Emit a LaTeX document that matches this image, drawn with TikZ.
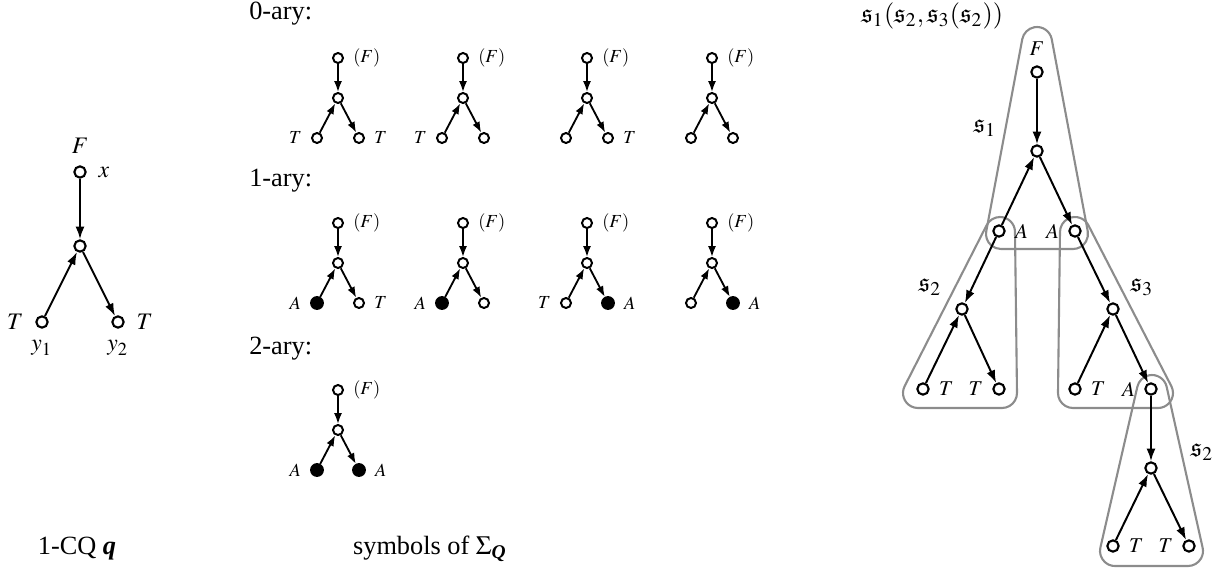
\documentclass[tikz,border=0pt]{standalone}
\usepackage{amsmath}
\usepackage{mathptmx}
\usepackage{amssymb}
\usepackage{fontspec}
\setmainfont{Liberation Serif}
\usepackage{tikz}
\usetikzlibrary{arrows.meta,calc}

\tikzset{
  bvtx/.style = {circle, draw, fill=white, line width=0.8pt, inner sep=0pt, minimum size=4.3pt},
  svtx/.style = {bvtx, line width=0.75pt, minimum size=3.8pt},
  sfull/.style = {svtx, fill=black, minimum size=4.5pt},
  barr/.style = {line width=0.75pt, -{Latex[length=4.8pt,width=3.4pt]}},
  sarr/.style = {line width=0.7pt, -{Latex[length=4.1pt,width=3pt]}},
  qlab/.style = {font=\small, label distance=1pt},
  tlab/.style = {font=\footnotesize},
  slab/.style = {font=\scriptsize},
  tl/.style = {svtx, label={[slab]left:$T$}},
  tr/.style = {svtx, label={[slab]right:$T$}},
  al/.style = {sfull, label={[slab]left:$A$}},
  ar/.style = {sfull, label={[slab]right:$A$}},
  hull/.style = {draw=black!45, line width=0.8pt}
}

% one symbol: name, x, y of the top node, left leaf, right leaf
\newcommand\symtree[5]{%
  \node[svtx, label={[slab]right:$(F)$}] (#1r) at (#2,#3) {};
  \node[svtx] (#1m) at (#2,#3+40) {};
  \node[#4] (#1a) at (#2-21,#3+80) {};
  \node[#5] (#1b) at (#2+21,#3+80) {};
  \draw[sarr] (#1r) -- (#1m);
  \draw[sarr] (#1a) -- (#1m);
  \draw[sarr] (#1m) -- (#1b);
}

% rounded hull round three points (counterclockwise)
\newcommand\hullr{5.7pt}
\newcommand\hull[3]{%
  \draw[hull] let \p1=(#1), \p2=(#2), \p3=(#3),
      \n1={atan2(\y2-(\y1),\x2-(\x1))},
      \n2={atan2(\y3-(\y2),\x3-(\x2))},
      \n3={atan2(\y1-(\y3),\x1-(\x3))} in
    ($(\p1)+({\n1-90}:\hullr)$) -- ($(\p2)+({\n1-90}:\hullr)$)
    arc[start angle=\n1-90, delta angle={mod(\n2-\n1+720,360)}, radius=\hullr]
    -- ($(\p3)+({\n2-90}:\hullr)$)
    arc[start angle=\n2-90, delta angle={mod(\n3-\n2+720,360)}, radius=\hullr]
    -- ($(\p1)+({\n3-90}:\hullr)$)
    arc[start angle=\n3-90, delta angle={mod(\n1-\n3+720,360)}, radius=\hullr]
    -- cycle;}

\begin{document}
\begin{tikzpicture}[x=0.38pt, y=-0.38pt]
  \useasboundingbox (0,0) rectangle (1226,574);

  % the 1-CQ
  \node[bvtx, label={[qlab]above:$F$}, label={[qlab]right:$x$}] (qx) at (80,172) {};
  \node[bvtx] (qm) at (80,246) {};
  \node[bvtx, label={[qlab]left:$T$}, label={[qlab]below:$y_1$}] (qy1) at (42,322) {};
  \node[bvtx, label={[qlab]right:$T$}, label={[qlab]below:$y_2$}] (qy2) at (118,322) {};
  \draw[barr] (qx) -- (qm);
  \draw[barr] (qy1) -- (qm);
  \draw[barr] (qm) -- (qy2);
  \node (cq) at (77,549) {1-CQ \textbf{\textit{q}}};

  % the symbols
  \node[anchor=west] (ary0) at (240,14) {0-ary:};
  \node[anchor=west] (ary1) at (240,181) {1-ary:};
  \node[anchor=west] (ary2) at (240,349) {2-ary:};
  \symtree{za}{338}{58}{tl}{tr}
  \symtree{zb}{463}{58}{tl}{svtx}
  \symtree{zc}{587}{58}{svtx}{tr}
  \symtree{zd}{712}{58}{svtx}{svtx}
  \symtree{oa}{338}{223}{al}{tr}
  \symtree{ob}{463}{223}{al}{svtx}
  \symtree{oc}{587}{223}{tl}{ar}
  \symtree{od}{712}{223}{svtx}{ar}
  \symtree{ta}{338}{390}{al}{ar}
  \node (sig) at (430,549) {symbols of $\Sigma_{\text{\bfseries\itshape Q}}$};

  % the term
  \node[anchor=west] (term) at (852,16) {$\mathfrak{s}_1(\mathfrak{s}_2,\mathfrak{s}_3(\mathfrak{s}_2))$};
  \coordinate (h1a) at (1037,42);
  \coordinate (h1b) at (1001,234);
  \coordinate (h1c) at (1073,234);
  \coordinate (h2a) at (1000,232);
  \coordinate (h2b) at (918,393);
  \coordinate (h2c) at (1002,393);
  \coordinate (h3a) at (1075,232);
  \coordinate (h3b) at (1073,393);
  \coordinate (h3c) at (1158,393);
  \coordinate (h4a) at (1152,390);
  \coordinate (h4b) at (1115,551);
  \coordinate (h4c) at (1188,551);
  \hull{h1a}{h1b}{h1c}
  \hull{h2a}{h2b}{h2c}
  \hull{h3a}{h3b}{h3c}
  \hull{h4a}{h4b}{h4c}
  \node (ls1) at (985,128) {$\mathfrak{s}_1$};
  \node (ls2) at (930,287) {$\mathfrak{s}_2$};
  \node (ls3) at (1142,287) {$\mathfrak{s}_3$};
  \node (ls4) at (1202,452) {$\mathfrak{s}_2$};

  \node[bvtx, label={[tlab]above:$F$}] (rt) at (1037,72) {};
  \node[bvtx] (rm) at (1037,151) {};
  \node[bvtx, label={[tlab]right:$A$}] (ra1) at (999,231) {};
  \node[bvtx, label={[tlab]left:$A$}] (ra2) at (1075,231) {};
  \node[bvtx] (lm) at (962,309) {};
  \node[bvtx, label={[tlab]right:$T$}] (lt1) at (923,389) {};
  \node[bvtx, label={[tlab]left:$T$}] (lt2) at (999,389) {};
  \node[bvtx] (km) at (1113,309) {};
  \node[bvtx, label={[tlab]right:$T$}] (kt) at (1075,389) {};
  \node[bvtx, label={[tlab]left:$A$}] (ka) at (1151,389) {};
  \node[bvtx] (bm) at (1151,468) {};
  \node[bvtx, label={[tlab]right:$T$}] (bt1) at (1113,546) {};
  \node[bvtx, label={[tlab]left:$T$}] (bt2) at (1189,546) {};
  \draw[barr] (rt) -- (rm);
  \draw[barr] (ra1) -- (rm);
  \draw[barr] (rm) -- (ra2);
  \draw[barr] (ra1) -- (lm);
  \draw[barr] (lt1) -- (lm);
  \draw[barr] (lm) -- (lt2);
  \draw[barr] (ra2) -- (km);
  \draw[barr] (kt) -- (km);
  \draw[barr] (km) -- (ka);
  \draw[barr] (ka) -- (bm);
  \draw[barr] (bt1) -- (bm);
  \draw[barr] (bm) -- (bt2);
\end{tikzpicture}
\end{document}
